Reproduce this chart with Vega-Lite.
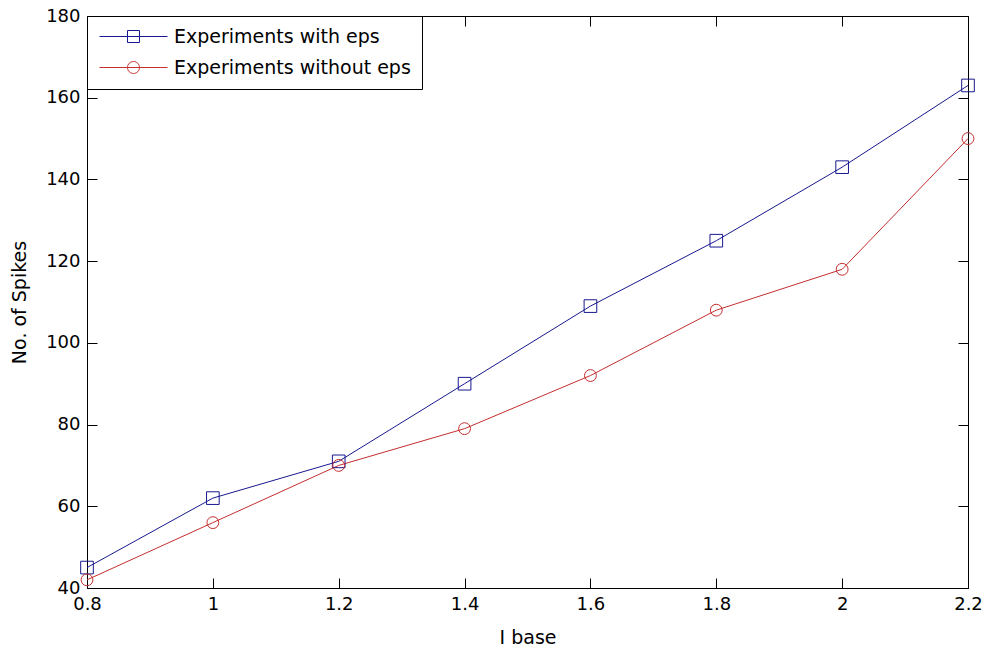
{
  "$schema": "https://vega.github.io/schema/vega-lite/v6.json",
  "width": 881,
  "height": 572,
  "autosize": {"type": "none"},
  "padding": {"left": 87, "top": 16, "right": 22, "bottom": 60},
  "background": "white",
  "config": {
    "view": {"stroke": "black", "strokeWidth": 1},
    "axis": {
      "grid": false,
      "labelFont": "DejaVu Sans",
      "labelFontSize": 18,
      "labelColor": "black",
      "domainColor": "black",
      "domainWidth": 1,
      "tickColor": "black",
      "tickWidth": 1,
      "tickSize": -10,
      "titleFont": "DejaVu Sans",
      "titleFontSize": 19,
      "titleFontWeight": "normal",
      "titleColor": "black"
    }
  },
  "data": {
    "values": [
      {"x": 0.8, "y": 45, "series": "Experiments with eps"},
      {"x": 1.0, "y": 62, "series": "Experiments with eps"},
      {"x": 1.2, "y": 71, "series": "Experiments with eps"},
      {"x": 1.4, "y": 90, "series": "Experiments with eps"},
      {"x": 1.6, "y": 109, "series": "Experiments with eps"},
      {"x": 1.8, "y": 125, "series": "Experiments with eps"},
      {"x": 2.0, "y": 143, "series": "Experiments with eps"},
      {"x": 2.2, "y": 163, "series": "Experiments with eps"},
      {"x": 0.8, "y": 42, "series": "Experiments without eps"},
      {"x": 1.0, "y": 56, "series": "Experiments without eps"},
      {"x": 1.2, "y": 70, "series": "Experiments without eps"},
      {"x": 1.4, "y": 79, "series": "Experiments without eps"},
      {"x": 1.6, "y": 92, "series": "Experiments without eps"},
      {"x": 1.8, "y": 108, "series": "Experiments without eps"},
      {"x": 2.0, "y": 118, "series": "Experiments without eps"},
      {"x": 2.2, "y": 150, "series": "Experiments without eps"}
    ]
  },
  "layer": [
    {
      "mark": {"type": "line", "strokeWidth": 1, "clip": false},
      "encoding": {
        "x": {
          "field": "x", "type": "quantitative",
          "scale": {"domain": [0.8, 2.2], "nice": false, "zero": false},
          "axis": {"orient": "bottom", "values": [0.8, 1, 1.2, 1.4, 1.6, 1.8, 2, 2.2], "labelFlush": false, "labelPadding": 17, "title": "I base", "titlePadding": 15, "labelExpr": "format(datum.value, '~g')"}
        },
        "y": {
          "field": "y", "type": "quantitative",
          "scale": {"domain": [40, 180], "nice": false, "zero": false},
          "axis": {"orient": "left", "values": [40, 60, 80, 100, 120, 140, 160, 180], "labelFlush": false, "labelPadding": 17, "title": "No. of Spikes", "titlePadding": 16}
        },
        "color": {
          "field": "series", "type": "nominal",
          "scale": {"domain": ["Experiments with eps", "Experiments without eps"], "range": ["#18188f", "#c42e2e"]},
          "legend": {
            "title": null,
            "orient": "top-left",
            "offset": 0,
            "strokeColor": "black",
            "fillColor": "white",
            "padding": 11,
            "labelFont": "DejaVu Sans",
            "labelFontSize": 19,
            "labelColor": "black",
            "labelLimit": 0,
            "symbolSize": 144,
            "symbolStrokeWidth": 1,
            "symbolFillColor": "transparent",
            "symbolType": {"expr": "datum.value === 'Experiments with eps' ? 'M-5.667,0H5.667M-1,-1H1V1H-1Z' : 'M-5.667,0H5.667M1,0A1,1,0,1,1,-1,0A1,1,0,1,1,1,0Z'"},
            "symbolOffset": 26,
            "labelOffset": 31,
            "rowPadding": 11,
            "cornerRadius": 0
          }
        }
      }
    },
    {
      "transform": [{"filter": "datum.series === 'Experiments with eps'"}],
      "mark": {"type": "point", "shape": "square", "filled": false, "size": 160, "strokeWidth": 1, "opacity": 1, "clip": false},
      "encoding": {
        "x": {"field": "x", "type": "quantitative", "axis": null},
        "y": {"field": "y", "type": "quantitative", "axis": null},
        "color": {"field": "series", "type": "nominal", "legend": null}
      }
    },
    {
      "transform": [{"filter": "datum.series === 'Experiments without eps'"}],
      "mark": {"type": "point", "shape": "circle", "filled": false, "size": 140, "strokeWidth": 1, "opacity": 1, "clip": false},
      "encoding": {
        "x": {"field": "x", "type": "quantitative", "axis": null},
        "y": {"field": "y", "type": "quantitative", "axis": null},
        "color": {"field": "series", "type": "nominal", "legend": null}
      }
    },
    {
      "mark": {"type": "line", "opacity": 0},
      "encoding": {
        "x": {"field": "x", "type": "quantitative", "axis": {"orient": "top", "values": [0.8, 1, 1.2, 1.4, 1.6, 1.8, 2, 2.2], "labels": false, "title": null, "domain": false}},
        "y": {"field": "y", "type": "quantitative", "axis": {"orient": "right", "values": [40, 60, 80, 100, 120, 140, 160, 180], "labels": false, "title": null, "domain": false}}
      }
    }
  ],
  "resolve": {"axis": {"x": "independent", "y": "independent"}}
}
